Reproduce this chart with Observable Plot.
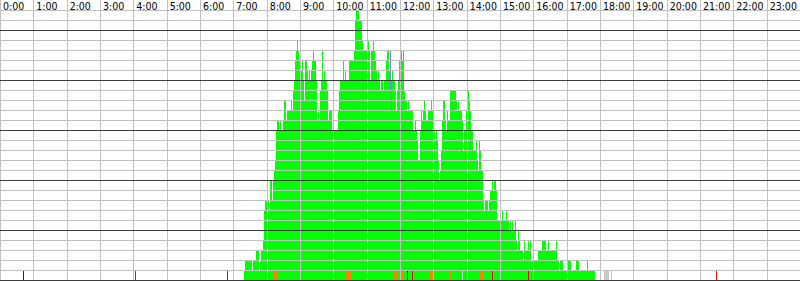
<!DOCTYPE html>
<html><head><meta charset="utf-8">
<script src="https://cdn.jsdelivr.net/npm/d3@7"></script>
<script src="https://cdn.jsdelivr.net/npm/@observablehq/plot@0.6"></script>
<style>html,body{margin:0;padding:0;background:#fff;} svg{display:block;}</style>
</head><body><div id="chart"></div>
<script>
// time buckets of 1.8 minutes each (800 buckets per day)
const bucketMinutes = 1.8;
const firstBucket = 244;
// concurrent count per bucket, starting at firstBucket
const counts = [
1,2,2,2,2,2,2,2,1,2,
2,2,3,3,3,1,2,3,3,4,
7,8,8,8,8,7,10,10,8,10,
11,12,15,16,16,15,16,15,15,16,
18,18,16,17,17,17,17,18,17,19,
20,22,23,24,23,22,20,21,22,20,
18,22,22,21,20,21,20,21,22,23,
22,22,20,16,17,16,19,20,23,20,
21,20,20,19,16,17,17,17,15,16,
15,15,15,15,17,19,20,20,20,22,
20,21,20,20,20,22,22,22,22,22,
23,26,27,27,27,26,26,26,24,23,
23,23,23,23,24,23,20,23,23,24,
23,22,21,20,21,20,19,20,20,19,
20,20,22,23,23,21,23,20,21,20,
20,19,17,19,20,22,22,23,22,23,
19,18,18,17,18,17,17,17,17,15,
15,16,15,14,12,12,15,17,16,17,
18,17,16,16,17,17,17,18,17,14,
15,14,15,14,12,10,11,13,16,18,
18,16,15,17,16,16,19,19,19,19,
19,19,18,17,18,17,17,17,16,13,
15,15,17,17,19,18,17,15,15,13,
13,13,14,12,11,14,13,11,11,8,
7,8,8,8,7,8,9,9,10,9,
10,10,9,6,6,6,6,6,7,6,
6,6,7,6,6,5,6,5,6,5,
5,6,4,3,5,4,3,3,3,2,
4,3,3,3,4,3,4,2,2,2,
2,2,2,2,3,3,3,3,4,4,
4,4,3,3,4,3,3,3,3,3,
3,3,4,2,2,1,2,2,2,1,
1,1,1,2,2,2,2,1,1,1,
1,1,2,2,2,1,1,1,1,1,
1,1,1,2,1,1,1,1,1,1,
1
];
const hourLabels = ["0:00","1:00","2:00","3:00","4:00","5:00","6:00","7:00","8:00","9:00","10:00","11:00",
  "12:00","13:00","14:00","15:00","16:00","17:00","18:00","19:00","20:00","21:00","22:00","23:00"];
// bottom-row status marks: [firstBucket, lastBucket, status]
const bottomMarks = [
  [23,23,"dark"],[135,135,"red"],[227,227,"red"],
  [274,277,"orange"],[295,295,"orange"],[341,341,"orange"],[346,350,"orange"],[353,353,"orange"],
  [394,396,"orange"],[401,403,"orange"],[407,407,"dark"],[412,412,"red"],[429,432,"orange"],
  [449,451,"orange"],[462,462,"gray"],[479,482,"orange"],[492,492,"red"],[528,528,"red"],
  [604,608,"gray"],[611,611,"gray"],[716,716,"red"]
];
// highlighted cells: [bucket, lowRow, highRow]
const blueCells = [[315,22,22],[390,20,23],[391,18,19]];
const statusColors = {orange:"#ff8000", red:"#ff0000", dark:"#900000", gray:"#c8c8c8"};
const rowsTotal = 28;

const bars = counts.map((c,i)=>({t0:(firstBucket+i)*bucketMinutes, t1:(firstBucket+i+1)*bucketMinutes, c}));
const marks = bottomMarks.map(([a,b,s])=>({t0:a*bucketMinutes, t1:(b+1)*bucketMinutes, s}));
const blues = blueCells.map(([b,lo,hi])=>({t0:b*bucketMinutes, t1:(b+1)*bucketMinutes, lo:lo-1, hi}));
const hours = hourLabels.map((l,i)=>({m:i*60, l}));
const rows = d3.range(0, rowsTotal);
const grayRows = rows.filter(r=>r%5!==0);
const blackRows = rows.filter(r=>r%5===0);

const crisp = {shapeRendering:"crispEdges"};
const chart = Plot.plot({
  width: 800, height: 281, margin: 0,
  x: {domain:[0,1440], range:[0,800], axis:null},
  y: {domain:[0,rowsTotal], range:[280,0], axis:null},
  marks: [
    Plot.rect(bars, {x1:"t0", x2:"t1", y1:0, y2:"c", fill:"#00ff00", dx:-0.5, dy:-0.5, ...crisp}),
    Plot.rect(blues, {x1:"t0", x2:"t1", y1:"lo", y2:"hi", fill:"#7878ff", dx:-0.5, dy:-0.5, ...crisp}),
    Plot.rect(marks, {x1:"t0", x2:"t1", y1:0, y2:1, fill:d=>statusColors[d.s], dx:-0.5, dy:-0.5, ...crisp}),
    Plot.ruleX(hours, {x:"m", stroke:"#c0c0c0", strokeWidth:1, ...crisp}),
    Plot.ruleY(grayRows, {y:d=>d, stroke:"#c0c0c0", strokeWidth:1, ...crisp}),
    Plot.ruleY(blackRows, {y:d=>d, stroke:"#3c3c3c", strokeWidth:1, ...crisp}),
    Plot.text(hours, {x:"m", y:rowsTotal-1, text:"l", textAnchor:"start", lineAnchor:"bottom",
      dx:2.5, dy:-0.5, fill:"#000", fontSize:10.5,
      fontFamily:"'Liberation Sans Narrow','Arial Narrow','DejaVu Sans Condensed',sans-serif"})
  ]
});
chart.style.background = "#fff";
document.getElementById("chart").appendChild(chart);
</script>
</body></html>
